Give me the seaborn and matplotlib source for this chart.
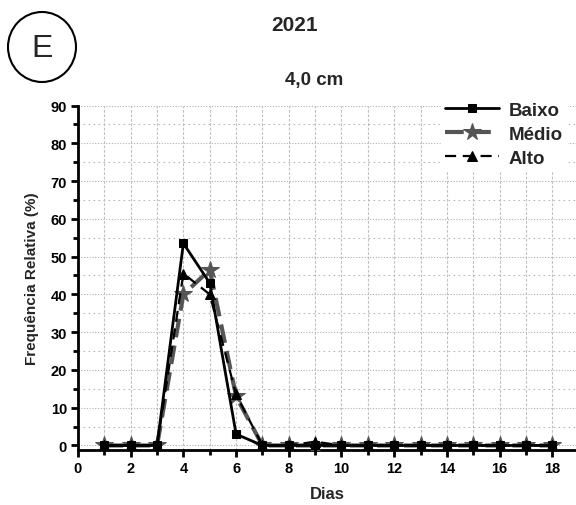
import matplotlib
matplotlib.use("Agg")
import matplotlib.pyplot as plt
from matplotlib.patches import Ellipse
from matplotlib.ticker import MultipleLocator
import numpy as np
import pandas as pd
import seaborn as sns

# ---- data ----
dias = list(range(1, 19))
baixo = [0, 0, 0, 53.5, 43, 3, 0, 0, 0, 0, 0, 0, 0, 0, 0, 0, 0, 0]
medio = [0, 0, 0, 40, 46.5, 13, 0, 0, 0, 0, 0, 0, 0, 0, 0, 0, 0, 0]
alto = [0, 0, 0, 45.5, 40, 13.5, 0, 0, 1, 0, 0, 0, 0, 0, 0, 0, 0, 0]
series_names = ["Baixo", "Médio", "Alto"]
x_ticks = list(range(0, 19, 2))
y_ticks = list(range(0, 91, 10))

df = pd.DataFrame({
    "Dias": dias * 3,
    "Freq": baixo + medio + alto,
    "Serie": [series_names[0]] * len(dias) + [series_names[1]] * len(dias) + [series_names[2]] * len(dias),
})

sns.set_theme(style="white")
plt.rcParams["font.family"] = ["Liberation Sans", "DejaVu Sans"]
plt.rcParams["font.weight"] = "bold"

W, H = 576, 506
fig = plt.figure(figsize=(W / 100, H / 100), dpi=100)
fig.patch.set_facecolor("white")
ax = fig.add_axes([78 / W, 1 - 451 / H, 1 - 78 / W, (451 - 106.5) / H])
ax.set_facecolor("white")

styles = {
    "Médio": dict(color="#555555", marker="*", markersize=13, linewidth=3.0,
                  linestyle=(0, (4.5, 2)), markeredgecolor="#555555", zorder=3),
    "Alto": dict(color="black", marker="^", markersize=6.5, linewidth=1.6,
                 linestyle=(0, (5, 3)), markeredgecolor="black", zorder=4),
    "Baixo": dict(color="black", marker="s", markersize=5.5, linewidth=2.0,
                  linestyle="-", markeredgecolor="black", zorder=5),
}
for name in ["Médio", "Alto", "Baixo"]:
    sub = df[df["Serie"] == name]
    sns.lineplot(data=sub, x="Dias", y="Freq", ax=ax, label=name,
                 errorbar=None, **styles[name])

ax.set_xlim(0, 18.9)
ax.set_ylim(-1.2, 90)
ax.set_xticks(x_ticks)
ax.set_yticks(y_ticks)
ax.xaxis.set_minor_locator(MultipleLocator(1))
ax.yaxis.set_minor_locator(MultipleLocator(5))

ax.grid(True, which="major", axis="y", color="#b0b0b0", linestyle=(0, (1, 1.5)), linewidth=0.8)
ax.grid(True, which="minor", axis="y", color="#b8b8b8", linestyle=(0, (1.5, 3)), linewidth=0.8)
ax.grid(True, which="both", axis="x", color="#c0c0c0", linestyle=(0, (2.5, 1.5)), linewidth=0.8)
ax.set_axisbelow(True)

for s in ["top", "right"]:
    ax.spines[s].set_visible(False)
for s in ["left", "bottom"]:
    ax.spines[s].set_linewidth(2.0)
    ax.spines[s].set_color("black")

ax.tick_params(axis="both", which="major", direction="out", length=5, width=2,
               labelsize=10.5, color="black", labelcolor="black", pad=3, left=True, bottom=True)
ax.tick_params(axis="both", which="minor", direction="out", length=3.5, width=2,
               color="black", left=True, bottom=True)
for lab in ax.get_xticklabels() + ax.get_yticklabels():
    lab.set_fontweight("bold")

ax.set_xlabel("Dias", fontsize=12, fontweight="bold", labelpad=8)
ax.set_ylabel("Frequência Relativa (%)", fontsize=11, fontweight="bold", labelpad=8)

handles, labels = ax.get_legend_handles_labels()
order = [labels.index(n) for n in series_names]
leg = ax.legend([handles[i] for i in order], [labels[i] for i in order],
                loc="upper right", bbox_to_anchor=(1.0, 1.05), frameon=True,
                fancybox=False, edgecolor="white", facecolor="white", framealpha=1,
                prop={"weight": "bold", "size": 13.5}, handlelength=2.9,
                handletextpad=0.5, labelspacing=0.38, borderpad=0.2)
leg.set_zorder(10)

fig.text(295 / W, 1 - 25.5 / H, "2021", ha="center", va="center", fontsize=15, fontweight="bold")
fig.text(314 / W, 1 - 80.5 / H, "4,0 cm", ha="center", va="center", fontsize=13.5, fontweight="bold")
fig.add_artist(Ellipse((42 / W, 1 - 48 / H), 68 / W, 70 / H, transform=fig.transFigure,
                       fill=False, edgecolor="black", linewidth=1.5))
fig.text(42.5 / W, 1 - 49 / H, "E", ha="center", va="center", fontsize=23, fontweight="normal")

fig.savefig("out.png", dpi=100, facecolor="white")
